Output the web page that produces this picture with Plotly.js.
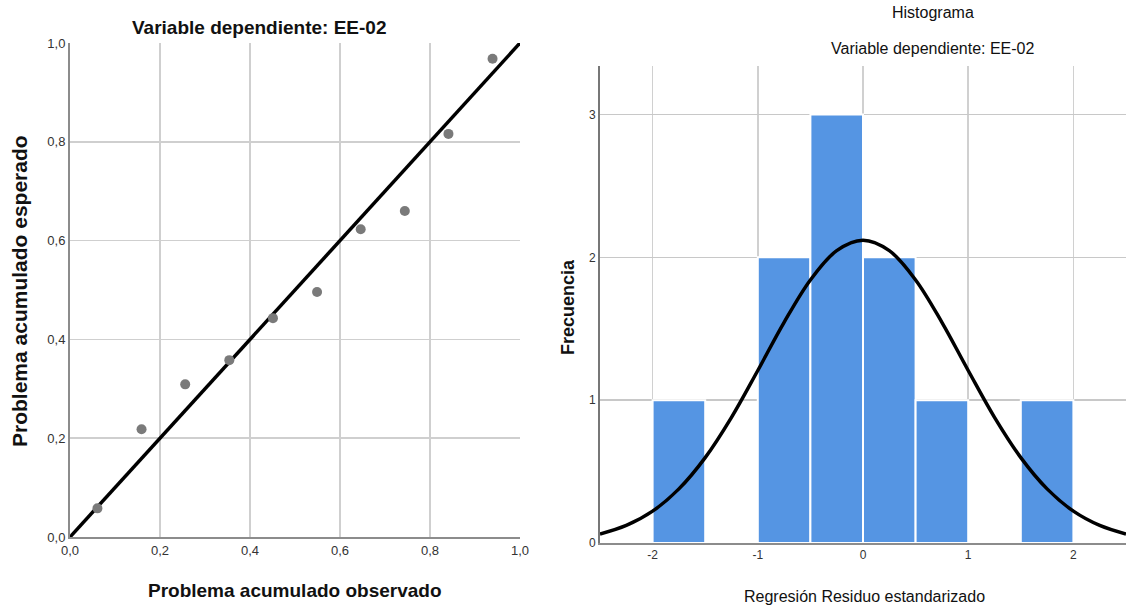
<!DOCTYPE html>
<html>
<head>
<meta charset="utf-8">
<script src="https://cdn.plot.ly/plotly-3.0.1.min.js"></script>
<style>
html,body{margin:0;padding:0;background:#fff;}
#chart{width:1126px;height:608px;}
</style>
</head>
<body>
<div id="chart"></div>
<script>
// P-P plot data
const ppObserved = [0.061, 0.159, 0.256, 0.354, 0.451, 0.549, 0.646, 0.744, 0.841, 0.939];
const ppExpected = [0.058, 0.218, 0.309, 0.358, 0.443, 0.496, 0.623, 0.660, 0.816, 0.968];
const refLineX = [0, 1];
const refLineY = [0, 1];

// Histogram data
const binCenters = [-1.75, -0.75, -0.25, 0.25, 0.75, 1.75];
const binCounts = [1, 2, 3, 2, 1, 1];
const binWidth = 0.5;

// Normal curve
const curveX = [-2.5, -2.25, -2.0, -1.75, -1.5, -1.25, -1.0, -0.75, -0.5, -0.25, 0, 0.25, 0.5, 0.75, 1.0, 1.25, 1.5, 1.75, 2.0, 2.25, 2.5];
const curveY = [0.063, 0.123, 0.223, 0.379, 0.598, 0.880, 1.208, 1.545, 1.842, 2.047, 2.12, 2.047, 1.842, 1.545, 1.208, 0.880, 0.598, 0.379, 0.223, 0.123, 0.063];

const ppTicks = [0, 0.2, 0.4, 0.6, 0.8, 1.0];
const histXTicks = [-2, -1, 0, 1, 2];
const histXTickText = ['-2', '-1', '0', '1', '2'];
const histYTicks = [0, 1, 2, 3];

const W = 1126, H = 608;
const px = v => v / W;
const py = v => 1 - v / H;

const FONT = 'Liberation Sans, Arial, sans-serif';
const NARROW = 'Liberation Sans Narrow, Arial Narrow, Liberation Sans, Arial, sans-serif';

const traces = [
  {
    type: 'scatter', mode: 'lines', x: refLineX, y: refLineY,
    xaxis: 'x', yaxis: 'y',
    line: {color: '#000', width: 3.5}, hoverinfo: 'skip', cliponaxis: false
  },
  {
    type: 'scatter', mode: 'markers', x: ppObserved, y: ppExpected,
    xaxis: 'x', yaxis: 'y',
    marker: {color: '#7a7a7a', size: 10}, cliponaxis: false
  },
  {
    type: 'bar', x: binCenters, y: binCounts, width: binWidth,
    xaxis: 'x2', yaxis: 'y2',
    marker: {color: '#5595e3', line: {color: '#ffffff', width: 2}}
  },
  {
    type: 'scatter', mode: 'lines', x: curveX, y: curveY,
    xaxis: 'x2', yaxis: 'y2',
    line: {color: '#000', width: 3.5, shape: 'spline', smoothing: 1}, cliponaxis: true
  }
];

const layout = {
  width: W, height: H,
  margin: {l: 0, r: 0, t: 0, b: 0},
  paper_bgcolor: '#fff', plot_bgcolor: '#fff',
  showlegend: false,
  separators: ',.',
  bargap: 0,
  font: {family: FONT, color: '#222'},
  xaxis: {
    domain: [px(70), px(520)], range: [0, 1], anchor: 'y',
    tickvals: ppTicks, tickformat: '.1f', ticks: '',
    showgrid: true, gridcolor: '#cfcfcf', gridwidth: 1.5,
    showline: true, linecolor: '#8c8c8c', linewidth: 2,
    zeroline: false, tickfont: {size: 13, color: '#333', family: FONT},
    fixedrange: true
  },
  yaxis: {
    domain: [py(537), py(43)], range: [0, 1], anchor: 'x',
    tickvals: ppTicks, tickformat: '.1f', ticks: '',
    showgrid: true, gridcolor: '#cfcfcf', gridwidth: 1.5,
    showline: true, linecolor: '#8c8c8c', linewidth: 2,
    zeroline: false, tickfont: {size: 13, color: '#333', family: FONT},
    fixedrange: true
  },
  xaxis2: {
    domain: [px(600), 1], range: [-2.5, 2.5], anchor: 'y2',
    tickvals: histXTicks, ticktext: histXTickText, ticks: '',
    showgrid: true, gridcolor: '#d0d0d0', gridwidth: 1.5,
    showline: true, linecolor: '#8c8c8c', linewidth: 2,
    zeroline: false, tickfont: {size: 12, color: '#333', family: NARROW},
    fixedrange: true
  },
  yaxis2: {
    domain: [py(543), py(66)], range: [0, 3.34], anchor: 'x2',
    tickvals: histYTicks, ticks: '',
    showgrid: true, gridcolor: '#c8c8c8', gridwidth: 1.5,
    showline: true, linecolor: '#777', linewidth: 2,
    zeroline: false, tickfont: {size: 12, color: '#333', family: NARROW},
    fixedrange: true
  },
  annotations: [
    {text: '<b>Variable dependiente: EE-02</b>', xref: 'paper', yref: 'paper',
     x: px(259), y: py(27), xanchor: 'center', yanchor: 'middle', showarrow: false,
     font: {size: 19, color: '#111', family: FONT}},
    {text: '<b>Problema acumulado observado</b>', xref: 'paper', yref: 'paper',
     x: px(295), y: py(590), xanchor: 'center', yanchor: 'middle', showarrow: false,
     font: {size: 19, color: '#111', family: FONT}},
    {text: '<b>Problema acumulado esperado</b>', xref: 'paper', yref: 'paper',
     x: px(19), y: py(291), xanchor: 'center', yanchor: 'middle', showarrow: false,
     textangle: -90, font: {size: 21, color: '#111', family: FONT}},
    {text: 'Histograma', xref: 'paper', yref: 'paper',
     x: px(933), y: py(12), xanchor: 'center', yanchor: 'middle', showarrow: false,
     font: {size: 16, color: '#111', family: NARROW}},
    {text: 'Variable dependiente: EE-02', xref: 'paper', yref: 'paper',
     x: px(933), y: py(48), xanchor: 'center', yanchor: 'middle', showarrow: false,
     font: {size: 16, color: '#111', family: NARROW}},
    {text: 'Regresión Residuo estandarizado', xref: 'paper', yref: 'paper',
     x: px(864), y: py(596), xanchor: 'center', yanchor: 'middle', showarrow: false,
     font: {size: 16, color: '#111', family: NARROW}},
    {text: '<b>Frecuencia</b>', xref: 'paper', yref: 'paper',
     x: px(568), y: py(307), xanchor: 'center', yanchor: 'middle', showarrow: false,
     textangle: -90, font: {size: 18, color: '#111', family: FONT}}
  ]
};

Plotly.newPlot('chart', traces, layout, {displayModeBar: false, staticPlot: true});
</script>
</body>
</html>
